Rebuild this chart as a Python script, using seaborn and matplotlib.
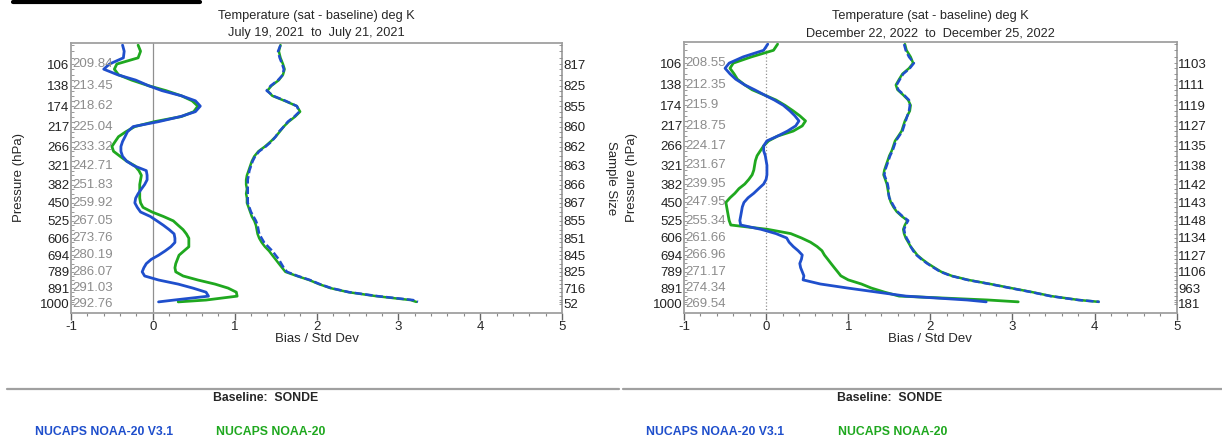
"""
Temperature bias / std dev profiles, two NUCAPS comparison periods vs SONDE
"""

import numpy as np
import matplotlib.pyplot as plt
from matplotlib.lines import Line2D
import seaborn as sns

# pressure levels (hPa) where the profiles were read
PRES = [83, 90, 98, 106, 113, 121, 129, 138, 146, 155, 164, 174, 185, 195, 206,
        217, 229, 241, 253, 266, 279, 293, 307, 321, 336, 351, 366, 382, 398,
        415, 432, 450, 468, 487, 506, 525, 545, 565, 585, 606, 627, 649, 671,
        694, 717, 741, 765, 789, 814, 839, 865, 891, 918, 945, 972, 985]

TICK_P = [106, 138, 174, 217, 266, 321, 382, 450, 525, 606, 694, 789, 891, 1000]

# July 2021
JUL_TEMP = ["209.84", "213.45", "218.62", "225.04", "233.32", "242.71", "251.83",
            "259.92", "267.05", "273.76", "280.19", "286.07", "291.03", "292.76"]
JUL_N = ["817", "825", "855", "860", "862", "863", "866", "867", "855", "851",
         "845", "825", "716", "52"]
JUL_BIAS_V31 = [-0.37, -0.35, -0.36, -0.53, -0.60, -0.43, -0.21, -0.05, 0.11, 0.35,
                0.52, 0.58, 0.52, 0.34, 0.07, -0.24, -0.31, -0.34, -0.37, -0.39,
                -0.39, -0.37, -0.32, -0.23, -0.08, -0.07, -0.07, -0.10, -0.14, -0.18,
                -0.21, -0.22, -0.19, -0.15, -0.03, 0.05, 0.13, 0.20, 0.26, 0.27,
                0.27, 0.22, 0.15, 0.07, -0.02, -0.08, -0.11, -0.13, -0.10, 0.07,
                0.31, 0.49, 0.65, 0.68, 0.26, 0.07]
JUL_BIAS_OPS = [-0.18, -0.15, -0.18, -0.44, -0.47, -0.42, -0.26, -0.05, 0.16, 0.35,
                0.48, 0.55, 0.50, 0.35, 0.02, -0.22, -0.33, -0.42, -0.46, -0.50,
                -0.48, -0.40, -0.32, -0.22, -0.17, -0.14, -0.15, -0.16, -0.16, -0.16,
                -0.16, -0.15, -0.12, -0.01, 0.13, 0.25, 0.31, 0.37, 0.41, 0.44,
                0.44, 0.44, 0.38, 0.32, 0.30, 0.28, 0.27, 0.28, 0.37, 0.55,
                0.76, 0.92, 1.02, 1.03, 0.65, 0.31]
JUL_STD_V31 = [1.56, 1.53, 1.55, 1.58, 1.60, 1.59, 1.53, 1.44, 1.39, 1.47,
               1.62, 1.76, 1.79, 1.73, 1.65, 1.60, 1.54, 1.50, 1.45, 1.38,
               1.30, 1.25, 1.22, 1.20, 1.18, 1.17, 1.16, 1.16, 1.16, 1.16,
               1.16, 1.16, 1.18, 1.20, 1.23, 1.26, 1.28, 1.29, 1.30, 1.33,
               1.36, 1.41, 1.46, 1.50, 1.54, 1.57, 1.60, 1.64, 1.77, 1.92,
               2.04, 2.18, 2.40, 2.75, 3.18, 3.24]
JUL_STD_OPS = [1.56, 1.54, 1.56, 1.59, 1.61, 1.59, 1.54, 1.45, 1.40, 1.46,
               1.61, 1.76, 1.80, 1.74, 1.66, 1.60, 1.55, 1.50, 1.44, 1.37,
               1.29, 1.24, 1.21, 1.19, 1.17, 1.15, 1.14, 1.14, 1.15, 1.14,
               1.15, 1.15, 1.17, 1.19, 1.21, 1.24, 1.26, 1.27, 1.28, 1.30,
               1.33, 1.37, 1.42, 1.46, 1.50, 1.54, 1.58, 1.62, 1.76, 1.91,
               2.03, 2.17, 2.39, 2.73, 3.15, 3.22]

# December 2022
DEC_TEMP = ["208.55", "212.35", "215.9", "218.75", "224.17", "231.67", "239.95",
            "247.95", "255.34", "261.66", "266.96", "271.17", "274.34", "269.54"]
DEC_N = ["1103", "1111", "1119", "1127", "1135", "1138", "1142", "1143", "1148",
         "1134", "1127", "1106", "963", "181"]
DEC_BIAS_V31 = [0.02, -0.03, -0.28, -0.45, -0.50, -0.44, -0.37, -0.26, -0.14, -0.02,
                0.10, 0.21, 0.29, 0.35, 0.40, 0.36, 0.26, 0.14, 0.01, -0.03,
                -0.03, -0.01, 0.00, 0.01, 0.01, 0.01, 0.00, -0.03, -0.09, -0.15,
                -0.22, -0.27, -0.29, -0.30, -0.31, -0.32, -0.31, -0.06, 0.12, 0.25,
                0.28, 0.33, 0.39, 0.44, 0.43, 0.41, 0.42, 0.44, 0.46, 0.45,
                0.66, 0.99, 1.35, 1.70, 2.45, 2.68]
DEC_BIAS_OPS = [0.14, 0.09, -0.18, -0.40, -0.44, -0.39, -0.35, -0.26, -0.17, -0.02,
                0.12, 0.23, 0.33, 0.41, 0.48, 0.44, 0.33, 0.14, 0.03, -0.03,
                -0.07, -0.11, -0.13, -0.14, -0.15, -0.17, -0.21, -0.26, -0.33, -0.38,
                -0.44, -0.49, -0.48, -0.47, -0.46, -0.45, -0.43, 0.02, 0.30, 0.43,
                0.54, 0.62, 0.68, 0.71, 0.75, 0.79, 0.83, 0.87, 0.91, 1.00,
                1.16, 1.28, 1.44, 1.62, 2.70, 3.07]
DEC_STD_V31 = [1.68, 1.70, 1.74, 1.80, 1.75, 1.67, 1.63, 1.59, 1.61, 1.68,
               1.74, 1.75, 1.74, 1.72, 1.70, 1.68, 1.66, 1.62, 1.58, 1.56,
               1.54, 1.51, 1.49, 1.47, 1.45, 1.44, 1.46, 1.48, 1.49, 1.49,
               1.50, 1.53, 1.56, 1.60, 1.66, 1.73, 1.70, 1.68, 1.69, 1.71,
               1.74, 1.76, 1.79, 1.83, 1.89, 1.96, 2.04, 2.12, 2.25, 2.45,
               2.72, 2.97, 3.23, 3.46, 3.80, 4.06]
DEC_STD_OPS = [1.69, 1.71, 1.76, 1.79, 1.74, 1.66, 1.62, 1.58, 1.60, 1.67,
               1.73, 1.76, 1.75, 1.72, 1.69, 1.67, 1.65, 1.61, 1.57, 1.55,
               1.53, 1.50, 1.48, 1.46, 1.44, 1.43, 1.45, 1.47, 1.48, 1.49,
               1.50, 1.52, 1.55, 1.59, 1.65, 1.72, 1.69, 1.67, 1.68, 1.70,
               1.73, 1.76, 1.80, 1.84, 1.90, 1.97, 2.05, 2.13, 2.26, 2.46,
               2.73, 2.98, 3.24, 3.47, 3.81, 4.05]

BLUE = "#1f4fcc"
GREEN = "#1fa81f"
GRAY = "#a0a0a0"
W, H = 1222, 438

sns.set_theme(style="white")
plt.rcParams["font.family"] = ["Liberation Sans", "DejaVu Sans"]
plt.rcParams["axes.unicode_minus"] = False


def _fwd(p):
    p = np.asarray(p, dtype=float)
    return np.sign(p) * np.abs(p) ** 0.25


def _inv(q):
    q = np.asarray(q, dtype=float)
    return np.sign(q) * np.abs(q) ** 4


def plot_panel(fig, rect, dates, temps, nsamp, bias31, biasops, std31, stdops,
               zero_ls="-", right_label=True):
    x0, y0, x1, y1 = rect
    ax = fig.add_axes([x0 / W, 1 - y1 / H, (x1 - x0) / W, (y1 - y0) / H])
    ax.set_yscale("function", functions=(_fwd, _inv))

    ax.axvline(0, color="#909090", lw=0.9, ls=zero_ls, zorder=1)
    sns.lineplot(x=stdops, y=PRES, orient="y", sort=False, estimator=None,
                 color=GREEN, lw=1.8, ax=ax)
    sns.lineplot(x=std31, y=PRES, orient="y", sort=False, estimator=None,
                 color=BLUE, lw=1.8, dashes=False, ax=ax).lines[-1].set_dashes([3, 1.2])
    sns.lineplot(x=biasops, y=PRES, orient="y", sort=False, estimator=None,
                 color=GREEN, lw=2.0, ax=ax)
    sns.lineplot(x=bias31, y=PRES, orient="y", sort=False, estimator=None,
                 color=BLUE, lw=2.0, ax=ax)

    ax.set_xlim(-1, 5)
    ax.set_ylim(1066, 81)
    ax.set_xticks(range(-1, 6))
    ax.set_xticklabels([str(i) for i in range(-1, 6)], fontsize=9.5)
    ax.set_xticks(np.arange(-1, 5.01, 0.2), minor=True)
    ax.set_yticks(TICK_P)
    ax.set_yticklabels([str(p) for p in TICK_P], fontsize=9.5, color="#222222")
    ax.set_yticks(PRES, minor=True)
    ax.yaxis.set_minor_formatter(plt.NullFormatter())
    ax.tick_params(axis="x", which="major", length=5, width=1, color="#666666",
                   pad=1, direction="out", bottom=True)
    ax.tick_params(axis="x", which="minor", length=2.5, width=0.8,
                   color="#888888", direction="out", bottom=True)
    ax.tick_params(axis="y", which="both", length=2, width=0.6, color="#888888",
                   pad=1, direction="in", left=True)
    for sp in ax.spines.values():
        sp.set_color(GRAY)
        sp.set_linewidth(1.3)
    ax.set_xlabel("")
    ax.set_ylabel("")

    tr = ax.get_yaxis_transform()
    for p, t in zip(TICK_P, temps):
        ax.text(0.003, p, t, transform=tr, ha="left", va="center",
                fontsize=9.5, color="#8c8c8c")

    ax2 = ax.twinx()
    ax2.set_yscale("function", functions=(_fwd, _inv))
    ax2.set_ylim(1066, 81)
    ax2.set_yticks(TICK_P)
    ax2.set_yticklabels(nsamp, fontsize=9.5, color="#222222")
    ax2.set_yticks(PRES, minor=True)
    ax2.yaxis.set_minor_formatter(plt.NullFormatter())
    ax2.tick_params(axis="y", which="both", length=2, width=0.6,
                    color="#888888", pad=1, direction="in", right=True)
    for sp in ax2.spines.values():
        sp.set_visible(False)
    ax2.grid(False)

    cx = (x0 + x1) / 2
    fig.text(cx / W, 1 - 16 / H, "Temperature (sat - baseline) deg K",
             ha="center", va="center", fontsize=9.2)
    fig.text(cx / W, 1 - 33 / H, dates, ha="center", va="center", fontsize=9.2)
    fig.text(cx / W, 1 - 339 / H, "Bias / Std Dev", ha="center", va="center",
             fontsize=9.5)
    fig.text((x0 - 52) / W, 1 - 178 / H, "Pressure (hPa)", rotation=90,
             ha="center", va="center", fontsize=9.5)
    if right_label:
        fig.text((x1 + 49) / W, 1 - 178 / H, "Sample Size", rotation=270,
                 ha="center", va="center", fontsize=9.5)
    return ax


fig = plt.figure(figsize=(W / 100, H / 100), dpi=100)

plot_panel(fig, (71, 43.3, 562, 313), "July 19, 2021  to  July 21, 2021",
           JUL_TEMP, JUL_N, JUL_BIAS_V31, JUL_BIAS_OPS, JUL_STD_V31, JUL_STD_OPS)
plot_panel(fig, (684, 42.3, 1176.7, 313),
           "December 22, 2022  to  December 25, 2022",
           DEC_TEMP, DEC_N, DEC_BIAS_V31, DEC_BIAS_OPS, DEC_STD_V31, DEC_STD_OPS,
           zero_ls=":", right_label=False)

# cut-off heading underline at the very top
fig.add_artist(Line2D([13 / W, 200 / W], [1 - 1.5 / H, 1 - 1.5 / H],
                      color="black", lw=3))

# baseline separators and legend text
for (lx0, lx1, cx, bx, gx) in [(7, 619, 266, 35, 216), (623, 1222, 890, 646, 838)]:
    fig.add_artist(Line2D([lx0 / W, lx1 / W], [1 - 389 / H, 1 - 389 / H],
                          color=GRAY, lw=1.6))
    fig.text(cx / W, 1 - 398 / H, "Baseline:  SONDE", ha="center", va="center",
             fontsize=8.8, fontweight="bold")
    fig.text(bx / W, 1 - 432 / H, "NUCAPS NOAA-20 V3.1", ha="left",
             va="center", fontsize=8.8, fontweight="bold", color=BLUE)
    fig.text(gx / W, 1 - 432 / H, "NUCAPS NOAA-20", ha="left",
             va="center", fontsize=8.8, fontweight="bold", color=GREEN)

plt.savefig("out.png", dpi=100)
